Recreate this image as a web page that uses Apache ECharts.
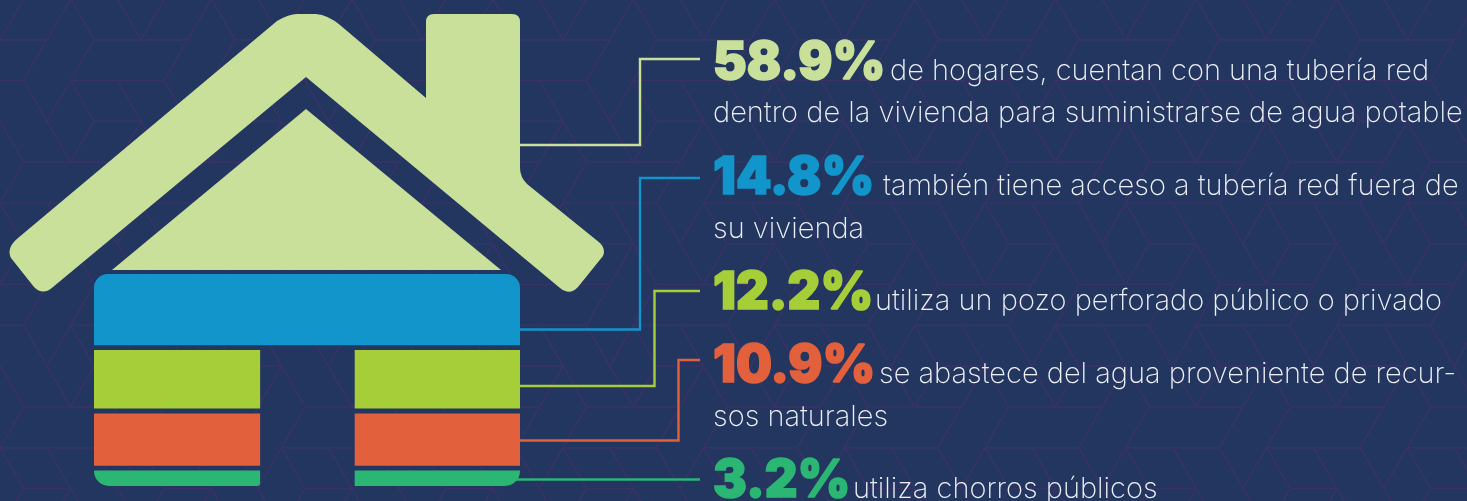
<!DOCTYPE html>
<html>
<head>
<meta charset="utf-8">
<title>Abastecimiento de agua</title>
<script src="https://cdn.jsdelivr.net/npm/echarts@6/dist/echarts.min.js"></script>
<style>
html, body { margin: 0; padding: 0; background: #223660; }
#houseChart { width: 1467px; height: 501px; }
</style>
</head>
<body>
<div id="houseChart"></div>
<script>
// Chart data
const categories = ['Tubería dentro', 'Tubería fuera', 'Pozo', 'Recursos naturales', 'Chorros'];
const shares = [58.9, 14.8, 12.2, 10.9, 3.2];
const firstLines = [
    'de hogares, cuentan con una tubería red',
    'también tiene acceso a tubería red fuera de',
    'utiliza un pozo perforado público o privado',
    'se abastece del agua proveniente de recur-',
    'utiliza chorros públicos'
];
const secondLines = [
    'dentro de la vivienda para suministrarse de agua potable',
    'su vivienda',
    '',
    'sos naturales',
    ''
];
const colors = ['#C9E09B', '#1295CA', '#A6CE39', '#E2603C', '#2BB673'];

const houseChart = echarts.init(document.getElementById('houseChart'));

// Text rows: baseline of the big number, left edge of the sentence, baseline of line two
const rowBaselines = [79, 194, 309, 382, 497];
const sentenceX = [890, 883, 875, 879, 853];
const secondBaselines = [121, 237, 0, 425, 0];
const numberX = 713;

// Leader lines from the house to each number
const leaders = [
    [[520, 145], [640, 145], [640, 59], [700, 59]],
    [[520, 329.5], [640, 329.5], [640, 178], [700, 178]],
    [[520, 386], [654.5, 386], [654.5, 291], [700, 291]],
    [[520, 440.5], [678.5, 440.5], [678.5, 360], [700, 360]],
    [[510, 479.5], [700, 479.5]]
];

var graphics = [];

// Background tile: repeats every 3 rows, moved half a period sideways
const period = 140.7, rowH = 40.8, tileTop = 39.7;
const edges = [
    // row 0
    [0, 0, 47, 0], [94, 0, 141, 0], [141, 0, 188, 0],
    [47, 0, 23.5, 1], [94, 0, 70.5, 1],
    // row 1
    [70.5, 1, 117.5, 1], [117.5, 1, 164.5, 1],
    [23.5, 1, 47, 2], [70.5, 1, 47, 2], [70.5, 1, 94, 2], [117.5, 1, 141, 2],
    // row 2
    [94, 2, 141, 2],
    [47, 2, 70.5, 3], [94, 2, 70.5, 3], [141, 2, 164.5, 3], [141, 2, 117.5, 3]
];
for (let block = -1; block < 5; block++) {
    const shift = (((block % 2) + 2) % 2) * period / 2;
    for (let col = -2; col < 12; col++) {
        edges.forEach(function (e) {
            const ox = col * period + shift;
            const oy = block * 3;
            graphics.push({
                type: 'line',
                silent: true,
                shape: {
                    x1: e[0] + ox, y1: tileTop + (e[1] + oy) * rowH,
                    x2: e[2] + ox, y2: tileTop + (e[3] + oy) * rowH
                },
                style: { stroke: '#3A3266', lineWidth: 1.5 }
            });
        });
    }
}

leaders.forEach(function (points, i) {
    graphics.push({ type: 'polyline', silent: true, shape: { points: points }, style: { fill: null, stroke: colors[i], lineWidth: 2.4 } });
});

function addText(x, y, text, font, fill, stroke) {
    graphics.push({
        type: 'text', silent: true, x: x, y: y, scaleX: stroke ? 0.975 : 1,
        style: { text: text, font: font, fill: fill, stroke: stroke, lineWidth: stroke ? 1.6 : 0, align: 'left', verticalAlign: 'bottom' }
    });
}

const numberFont = '900 52px Inter';
const sentenceFont = '200 29px Inter';
shares.forEach(function (value, i) {
    addText(numberX, rowBaselines[i] + 10, value.toFixed(1) + '%', numberFont, colors[i], colors[i]);
    addText(sentenceX[i], rowBaselines[i] + 7, firstLines[i], sentenceFont, '#EEF1F6');
    if (secondLines[i]) {
        addText(numberX, secondBaselines[i] + 7, secondLines[i], sentenceFont, '#EEF1F6');
    }
});

const roofPath = 'M18 238 L277 21 Q289 14 297 14 L316 14 Q328 15 340 25 L426 98 L426 22 Q426 14 434 14 ' +
    'L512 14 Q520 14 520 22 L520 168 Q520 177 527 184 L600 243 Q606 249 603 256 L578 287 Q570 296 560 288 ' +
    'L306 77 L53 287 Q43 296 34 287 L11 258 Q6 248 18 238 Z';
const atticPath = 'M306 109 L501 270 L112 270 Z';

// The four lower bands of the house, stacked down from the roof with a small gap
const gap = 1;
var bandData = [];
var cursor = 0;
for (let i = 1; i < shares.length; i++) {
    bandData.push([cursor, cursor + shares[i], i]);
    cursor += shares[i] + gap;
}

const doorLeft = 39;
const doorRight = 61.2;

function renderBand(params, api) {
    const from = api.value(0), to = api.value(1), idx = api.value(2);
    const fill = colors[idx];
    function rect(x0, x1, r) {
        const a = api.coord([x0, from]);
        const b = api.coord([x1, to]);
        return { type: 'rect', shape: { x: a[0], y: a[1], width: b[0] - a[0], height: b[1] - a[1], r: r }, style: { fill: fill } };
    }
    if (idx === 1) {
        return { type: 'group', children: [rect(0, 100, [14, 14, 0, 0])] };
    }
    const last = idx === shares.length - 1;
    return {
        type: 'group',
        children: [
            rect(0, doorLeft, last ? [0, 0, 3, 15] : 0),
            rect(doorRight, 100, last ? [0, 0, 15, 0] : 0)
        ]
    };
}

// Roof and attic, which stand for the first share
function renderRoof() {
    return {
        type: 'group',
        children: [
            { type: 'path', shape: { pathData: roofPath }, style: { fill: colors[0] } },
            { type: 'path', shape: { pathData: atticPath }, style: { fill: colors[0] } }
        ]
    };
}

var option = {
    animation: false,
    backgroundColor: '#223660',
    grid: { left: 94, right: 947, top: 274, bottom: 15 },
    xAxis: { type: 'value', min: 0, max: 100, show: false },
    yAxis: { type: 'value', min: 0, max: 44.1, inverse: true, show: false },
    graphic: { elements: graphics },
    series: [
        {
            type: 'custom',
            name: categories[0],
            z: 3,
            clip: false,
            silent: true,
            renderItem: renderRoof,
            encode: { x: 0, y: 1 },
            data: [[0, shares[0]]]
        },
        {
            type: 'custom',
            name: 'Fuente de agua',
            z: 4,
            silent: true,
            renderItem: renderBand,
            encode: { x: -1, y: [0, 1] },
            data: bandData
        }
    ]
};
houseChart.setOption(option);
</script>
</body>
</html>
